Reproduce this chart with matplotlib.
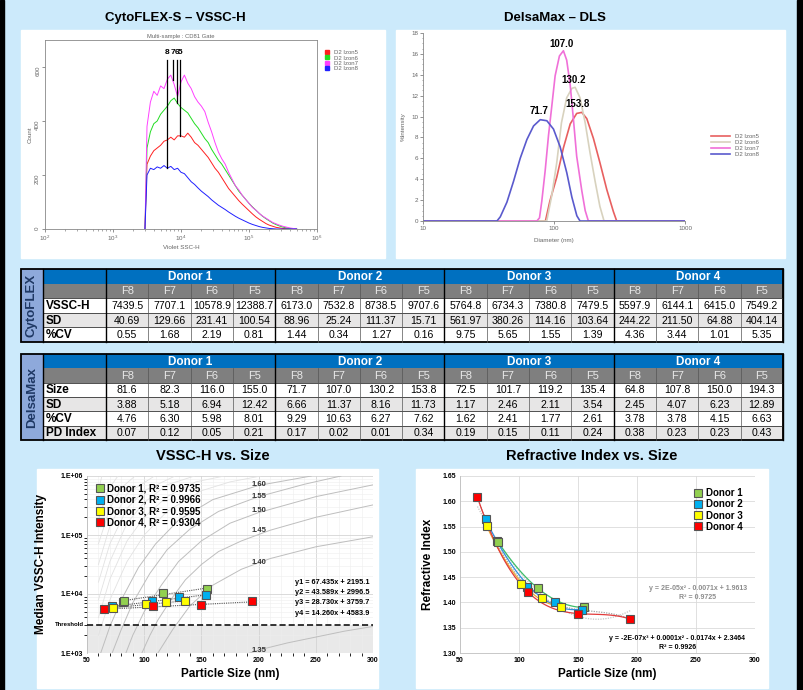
import matplotlib
matplotlib.use("Agg")
import matplotlib.pyplot as plt
import matplotlib.ticker as mticker
from matplotlib.patches import Rectangle
from matplotlib.lines import Line2D
import numpy as np

plt.rcParams["font.family"] = ["Liberation Sans", "DejaVu Sans"]

W, H = 804, 690
BG = "#CCEAFB"
DONOR_COL = ["#92D050", "#00B0F0", "#FFFF00", "#FF0000"]
TREND_COL = ["#3DBE6A", "#2E8FE0", "#F0A830", "#E23B3B"]

# ---------------------------------------------------------------- data
donors = ["Donor 1", "Donor 2", "Donor 3", "Donor 4"]
fractions = ["F8", "F7", "F6", "F5"]

vssc = [[7439.5, 7707.1, 10578.9, 12388.7], [6173.0, 7532.8, 8738.5, 9707.6],
        [5764.8, 6734.3, 7380.8, 7479.5], [5597.9, 6144.1, 6415.0, 7549.2]]
vssc_sd = [[40.69, 129.66, 231.41, 100.54], [88.96, 25.24, 111.37, 15.71],
           [561.97, 380.26, 114.16, 103.64], [244.22, 211.50, 64.88, 404.14]]
vssc_cv = [[0.55, 1.68, 2.19, 0.81], [1.44, 0.34, 1.27, 0.16],
           [9.75, 5.65, 1.55, 1.39], [4.36, 3.44, 1.01, 5.35]]

size = [[81.6, 82.3, 116.0, 155.0], [71.7, 107.0, 130.2, 153.8],
        [72.5, 101.7, 119.2, 135.4], [64.8, 107.8, 150.0, 194.3]]
size_sd = [[3.88, 5.18, 6.94, 12.42], [6.66, 11.37, 8.16, 11.73],
           [1.17, 2.46, 2.11, 3.54], [2.45, 4.07, 6.23, 12.89]]
size_cv = [[4.76, 6.30, 5.98, 8.01], [9.29, 10.63, 6.27, 7.62],
           [1.62, 2.41, 1.77, 2.61], [3.78, 3.78, 4.15, 6.63]]
pdi = [[0.07, 0.12, 0.05, 0.21], [0.17, 0.02, 0.01, 0.34],
       [0.19, 0.15, 0.11, 0.24], [0.38, 0.23, 0.23, 0.43]]

ri = [[1.522, 1.520, 1.428, 1.390], [1.565, 1.430, 1.401, 1.385],
      [1.552, 1.437, 1.409, 1.391], [1.608, 1.420, 1.378, 1.367]]

r2_vssc = ["0.9735", "0.9966", "0.9595", "0.9304"]
fit_slope = [67.435, 43.589, 28.730, 14.260]
fit_icpt = [2195.1, 2996.5, 3759.7, 4583.9]
threshold = 3000

# CytoFLEX histograms (log10 VSSC-H vs count), D2 Izon5..8
hist_log = [3.47] + list(np.round(np.arange(3.50, 5.701, 0.05), 2))
hist_izon5 = [0, 240, 270, 290, 300, 310, 325, 330, 340, 330, 345, 345, 340, 355, 340, 320, 310, 295, 280, 265,
              245, 225, 210, 190, 170, 150, 135, 120, 105, 92, 80, 68, 56, 45, 36, 28, 20, 14, 10, 6, 4, 2, 1, 0, 0, 0]
hist_izon6 = [0, 300, 360, 390, 400, 425, 440, 455, 475, 485, 465, 450, 440, 430, 410, 390, 375, 355, 335, 320,
              295, 275, 255, 240, 220, 200, 180, 160, 140, 125, 110, 95, 82, 70, 58, 47, 38, 30, 22, 16, 11, 7, 4, 2, 1, 0]
hist_izon7 = [0, 380, 470, 510, 495, 530, 520, 555, 570, 535, 490, 545, 570, 540, 520, 490, 470, 455, 435, 395,
              360, 320, 285, 260, 240, 210, 185, 160, 145, 125, 110, 95, 80, 70, 58, 48, 40, 32, 24, 19, 14, 10, 7, 4, 2, 0]
hist_izon8 = [0, 200, 225, 220, 230, 225, 235, 225, 232, 220, 225, 210, 205, 190, 175, 165, 152, 140, 130, 120,
              108, 98, 88, 80, 72, 63, 55, 47, 40, 34, 28, 22, 17, 13, 9, 6, 4, 2, 1, 0, 0, 0, 0, 0, 0, 0]

# DelsaMax DLS intensity distributions
dls_d5 = [10, 86, 93, 105, 118, 133, 149, 163, 178, 200, 224, 253, 284, 301, 1000]
dls_v5 = [0, 0, 1.9, 4.2, 7.0, 9.3, 10.3, 10.4, 9.8, 7.9, 5.6, 3.0, 0.9, 0, 0]
dls_d6 = [10, 88, 96, 105, 114, 125, 137, 145, 158, 173, 188, 206, 224, 241, 1000]
dls_v6 = [0, 0, 2.4, 5.6, 9.4, 11.8, 12.7, 12.8, 11.8, 9.4, 6.6, 3.8, 1.4, 0, 0]
dls_d7 = [10, 74, 77.5, 80.7, 85.6, 90.8, 96.2, 102, 110, 118, 125, 133, 141, 149, 163, 173, 183, 1000]
dls_v7 = [0, 0, 0.3, 1.9, 4.8, 8.2, 11.0, 13.9, 15.8, 16.3, 15.4, 13.0, 9.6, 6.2, 2.9, 1.0, 0, 0]
dls_d8 = [10, 36.7, 38.9, 43.7, 49.1, 55.2, 62.1, 69.8, 78.5, 88.2, 99.1, 111.4, 125.3, 136.8, 149.4, 158, 1000]
dls_v8 = [0, 0, 0.4, 1.8, 3.8, 6.0, 7.8, 9.1, 9.7, 9.6, 8.8, 7.1, 4.6, 2.3, 0.5, 0, 0]
dls_peaks = ["153.8", "130.2", "107.0", "71.7"]

# Mie reference curves (nm, log10 intensity); labelled RIs dark, others light
mie_ri = ["1.35", "1.40", "1.45", "1.50", "1.55", "1.60"]
mie_x = [[188, 200, 225, 250, 275, 300],
         [112, 125, 140, 160, 185, 210, 250, 300],
         [98, 105, 112, 125, 136, 150, 165, 185, 210, 250, 300],
         [84, 90, 100, 115, 130, 150, 175, 200, 250, 300],
         [72, 80, 90, 105, 120, 140, 165, 200, 240, 272],
         [62, 70, 80, 95, 110, 130, 160, 200, 246]]
mie_log = [[2.97, 3.05, 3.17, 3.27, 3.37, 3.45],
           [3.0, 3.4, 3.8, 4.15, 4.42, 4.6, 4.8, 4.97],
           [3.0, 3.3, 3.56, 3.95, 4.24, 4.5, 4.72, 4.9, 5.08, 5.3, 5.51],
           [3.0, 3.3, 3.7, 4.15, 4.55, 4.9, 5.2, 5.38, 5.65, 5.85],
           [3.0, 3.4, 3.85, 4.35, 4.75, 5.1, 5.4, 5.65, 5.86, 6.0],
           [3.0, 3.45, 3.9, 4.45, 4.85, 5.25, 5.6, 5.84, 6.0]]
mie_light_x = [[60, 70, 85, 100, 120, 150, 175, 202], [60, 70, 85, 100, 120, 145, 170],
               [60, 70, 85, 100, 120, 144], [60, 70, 85, 100, 127], [60, 70, 85, 109],
               [60, 70, 80, 92], [60, 68, 77], [60, 63]]
mie_light_log = [[3.3, 3.9, 4.55, 5.0, 5.4, 5.75, 5.9, 6.0], [3.6, 4.25, 4.9, 5.3, 5.65, 5.9, 6.0],
                 [3.9, 4.55, 5.2, 5.55, 5.85, 6.0], [4.2, 4.85, 5.45, 5.75, 6.0], [4.5, 5.15, 5.7, 6.0],
                 [4.85, 5.45, 5.8, 6.0], [5.25, 5.75, 6.0], [5.75, 6.0]]

# ---------------------------------------------------------------- canvas
fig = plt.figure(figsize=(W / 100, H / 100), dpi=100, facecolor=BG)
cv = fig.add_axes([0, 0, 1, 1])
cv.set_xlim(0, W); cv.set_ylim(H, 0); cv.axis("off")
cv.add_patch(Rectangle((0, 0), 4, H, color="black"))
cv.add_patch(Rectangle((797, 0), 7, H, color="black"))
for x0, y0, x1, y1 in [(21, 30, 385, 258), (396, 30, 785, 258), (37, 469, 378, 688), (416, 469, 768, 688)]:
    cv.add_patch(Rectangle((x0, y0), x1 - x0, y1 - y0, color="white"))
cv.text(175, 18, "CytoFLEX-S – VSSC-H", ha="center", va="center", fontsize=9.5, fontweight="bold")
cv.text(555, 18, "DelsaMax – DLS", ha="center", va="center", fontsize=9.5, fontweight="bold")
cv.text(213, 456, "VSSC-H vs. Size", ha="center", va="center", fontsize=10.5, fontweight="bold")
cv.text(592, 456, "Refractive Index vs. Size", ha="center", va="center", fontsize=10.5, fontweight="bold")


def add_ax(x0, y0, x1, y1):
    return fig.add_axes([x0 / W, 1 - y1 / H, (x1 - x0) / W, (y1 - y0) / H])


def table(top, bottom, side, rows):
    x0, x1, xs, xl = 21, 783, 43, 106
    rh = (bottom - top) / (len(rows) + 2)
    cw = (x1 - xl) / 16
    cv.add_patch(Rectangle((x0, top), xs - x0, bottom - top, fc="#8EA9DB", ec="none"))
    cv.text((x0 + xs) / 2, (top + bottom) / 2, side, rotation=90, ha="center", va="center",
            fontsize=9.5, fontweight="bold", color="#1F3864")
    cv.add_patch(Rectangle((xs, top), x1 - xs, rh, fc="#0070C0", ec="none"))
    cv.add_patch(Rectangle((xs, top + rh), x1 - xs, rh, fc="#7F7F7F", ec="none"))
    for g, d in enumerate(donors):
        cv.text(xl + (4 * g + 2) * cw, top + rh / 2 + 0.5, d, ha="center", va="center",
                color="white", fontsize=8.5, fontweight="bold")
    for j in range(16):
        cv.text(xl + (j + 0.5) * cw, top + 1.5 * rh + 0.5, fractions[j % 4], ha="center", va="center",
                color="#E8E8E8", fontsize=8)
    for i, (lab, vals, fmt) in enumerate(rows):
        y = top + (i + 2) * rh
        cv.add_patch(Rectangle((xs, y), x1 - xs, rh, fc="white" if i % 2 == 0 else "#E7E6E6", ec="none"))
        cv.text(xs + 3, y + rh / 2 + 0.5, lab, ha="left", va="center", fontsize=8.5, fontweight="bold")
        for g in range(4):
            for k in range(4):
                cv.text(xl + (4 * g + k + 0.5) * cw, y + rh / 2 + 0.5, fmt.format(vals[g][k]),
                        ha="center", va="center", fontsize=7.6)
        cv.plot([xs, x1], [y, y], color="#333333", lw=0.6)
    for j in range(17):
        x = xl + j * cw
        if j % 4 == 0:
            cv.plot([x, x], [top, bottom], color="black", lw=1.0)
        else:
            cv.plot([x, x], [top + rh, bottom], color="#555555", lw=0.5)
    cv.plot([xs, xs], [top, bottom], color="black", lw=1.0)
    cv.add_patch(Rectangle((x0, top), x1 - x0, bottom - top, fc="none", ec="black", lw=1.3))


table(269, 342, "CytoFLEX", [("VSSC-H", vssc, "{:.1f}"), ("SD", vssc_sd, "{:.2f}"), ("%CV", vssc_cv, "{:.2f}")])
table(354, 440, "DelsaMax", [("Size", size, "{:.1f}"), ("SD", size_sd, "{:.2f}"), ("%CV", size_cv, "{:.2f}"),
                             ("PD Index", pdi, "{:.2f}")])

# ---------------------------------------------------------------- histogram
GRAY_TXT = "#666666"
ax = add_ax(45, 40, 317, 229)
hx = 10 ** np.array(hist_log)
hist_cols = ["#FF2020", "#22DD22", "#FF40FF", "#2020FF"]
hist_lbls = ["D2 Izon5", "D2 Izon6", "D2 Izon7", "D2 Izon8"]
hists = [hist_izon5, hist_izon6, hist_izon7, hist_izon8]
for hy, c in zip(hists, hist_cols):
    ax.plot(hx, hy, color=c, lw=0.7)
# gate markers: Donor 2 medians; 8 -> Izon8 ... 5 -> Izon5
for lbl, med, hy in zip(["8", "7", "6", "5"], vssc[1], [hist_izon8, hist_izon7, hist_izon6, hist_izon5]):
    bot = np.interp(np.log10(med), hist_log, hy)
    ax.plot([med, med], [bot, 625], color="black", lw=0.9)
    ax.text(med, 655, lbl, ha="center", va="center", fontsize=6, fontweight="bold")
ax.set_xscale("log"); ax.set_xlim(1e2, 1e6); ax.set_ylim(0, 700)
ax.set_yticks([0, 200, 400, 600])
ax.tick_params(labelsize=4.5, colors=GRAY_TXT, length=2, width=0.5, pad=1.5)
ax.tick_params(axis="y", labelrotation=90)
ax.tick_params(which="minor", length=1.2, width=0.4, colors=GRAY_TXT)
for s in ax.spines.values():
    s.set_color("#888888"); s.set_linewidth(0.6)
ax.set_xlabel("Violet SSC-H", fontsize=4.5, color=GRAY_TXT, labelpad=1)
ax.set_ylabel("Count", fontsize=4.5, color=GRAY_TXT, labelpad=2)
ax.set_title("Multi-sample : CD81 Gate", fontsize=4.2, color=GRAY_TXT, pad=1.5)
h = [Line2D([], [], ls="none", marker="s", ms=3.5, mfc=c, mec=c) for c in hist_cols]
ax.legend(h, hist_lbls, loc="upper left", bbox_to_anchor=(1.0, 0.97), frameon=False, fontsize=4.3,
          handletextpad=0.2, labelspacing=0.05, borderaxespad=0.3, labelcolor=GRAY_TXT)

# ---------------------------------------------------------------- DLS
ax = add_ax(423, 33, 685, 221)
dls_cols = ["#E86060", "#D8D2BE", "#F070D8", "#5A5ACD"]
for d, v, c, lbl in zip([dls_d5, dls_d6, dls_d7, dls_d8], [dls_v5, dls_v6, dls_v7, dls_v8], dls_cols, hist_lbls):
    ax.plot(d, v, color=c, lw=1.2, label=lbl)
ax.set_xscale("log"); ax.set_xlim(10, 1000); ax.set_ylim(0, 18)
ax.set_yticks(range(0, 19, 2))
ax.yaxis.set_minor_locator(mticker.MultipleLocator(0.5))
ax.xaxis.set_major_formatter(mticker.FuncFormatter(lambda v, p: f"{v:g}"))
ax.xaxis.set_minor_locator(mticker.NullLocator())
ax.tick_params(labelsize=4.5, colors=GRAY_TXT, length=2, width=0.5, pad=1.5)
ax.tick_params(which="minor", length=1, width=0.4, colors=GRAY_TXT)
for s in ["top", "right"]:
    ax.spines[s].set_visible(False)
for s in ["left", "bottom"]:
    ax.spines[s].set_color("#888888"); ax.spines[s].set_linewidth(0.6)
ax.set_xlabel("Diameter (nm)", fontsize=4.5, color=GRAY_TXT, labelpad=5)
ax.set_ylabel("%Intensity", fontsize=4.5, color=GRAY_TXT, labelpad=4)
for lbl, (xp, yp) in zip(dls_peaks, [(150, 11.2), (140, 13.5), (115, 16.95), (77, 10.5)]):
    ax.text(xp, yp, lbl, ha="center", va="center", fontsize=7, fontweight="bold")
ax.legend(loc="upper left", bbox_to_anchor=(1.08, 0.49), frameon=False, fontsize=4.3, handlelength=3.2,
          labelspacing=0.1, labelcolor=GRAY_TXT)

# ---------------------------------------------------------------- VSSC vs size
ax = add_ax(87, 476, 373, 653)
ax.set_yscale("log"); ax.set_xlim(50, 300); ax.set_ylim(1e3, 1e6)
ax.set_xticks(range(50, 301, 50))
ax.xaxis.set_minor_locator(mticker.MultipleLocator(10))
ax.set_yticks([1e3, 1e4, 1e5, 1e6])
ax.set_yticklabels(["1.E+03", "1.E+04", "1.E+05", "1.E+06"])
ax.grid(which="major", color="#D4D4D4", lw=0.6)
ax.grid(which="minor", color="#EEEEEE", lw=0.4)
ax.set_axisbelow(True)
ax.axhspan(1e3, threshold, color="#E9E9E9", zorder=0.5, lw=0)
for xs_, ls_ in zip(mie_light_x, mie_light_log):
    ax.plot(xs_, 10 ** np.array(ls_), color="#E2E2E2", lw=0.6, zorder=1)
for xs_, ls_ in zip(mie_x, mie_log):
    ax.plot(xs_, 10 ** np.array(ls_), color="#BEBEBE", lw=0.7, zorder=1.2)
for lbl, yl in zip(mie_ri, [3.04, 4.54, 5.07, 5.41, 5.66, 5.86]):
    ax.text(200.5, 10 ** yl, lbl, ha="center", va="center", fontsize=5.5, fontweight="bold", color="#333333")
ax.axhline(threshold, color="black", lw=1.1, ls=(0, (4, 2)), zorder=3)
ax.text(-0.01, threshold, "Threshold", transform=ax.get_yaxis_transform(), ha="right", va="center",
        fontsize=4.3, fontweight="bold")
for i in range(4):
    xf = np.array([min(size[i]), max(size[i])])
    ax.plot(xf, fit_slope[i] * xf + fit_icpt[i], color="#555555", lw=0.8, ls=(0, (1, 1)), zorder=3)
for i in range(4):
    ax.plot(size[i], vssc[i], ls="none", marker="s", ms=6.3, mfc=DONOR_COL[i], mec="#555555", mew=0.8, zorder=4,
            label=f"{donors[i]}, R² = {r2_vssc[i]}")
for i in range(4):
    ax.text(0.727, 0.401 - 0.059 * i, f"y{i + 1} = {fit_slope[i]:.3f}x + {fit_icpt[i]:.1f}", transform=ax.transAxes,
            ha="left", va="center", fontsize=5.3, fontweight="bold")
ax.tick_params(labelsize=5, length=0, pad=3)
for t in ax.get_xticklabels() + ax.get_yticklabels():
    t.set_fontweight("bold")
for s in ["top", "right", "bottom"]:
    ax.spines[s].set_visible(False)
ax.spines["left"].set_color("#BFBFBF"); ax.spines["left"].set_linewidth(0.6)
ax.set_xlabel("Particle Size (nm)", fontsize=8.5, fontweight="bold", labelpad=3)
ax.set_ylabel("Median VSSC-H Intensity", fontsize=8.5, fontweight="bold", labelpad=10)
ax.legend(loc="upper left", bbox_to_anchor=(0.0, 1.0), frameon=False, handletextpad=0.3, labelspacing=0.12,
          borderaxespad=0.4, prop={"size": 7, "weight": "bold"}, handlelength=1.0)

# ---------------------------------------------------------------- RI vs size
ax = add_ax(460, 476, 755, 653)
ax.set_xlim(50, 300); ax.set_ylim(1.30, 1.65)
ax.set_xticks(range(50, 301, 50))
ax.set_yticks(np.round(np.arange(1.30, 1.651, 0.05), 2))
ax.yaxis.set_major_formatter(mticker.FormatStrFormatter("%.2f"))
ax.grid(color="#DADADA", lw=0.6)
ax.set_axisbelow(True)
all_x = np.concatenate([np.array(s) for s in size])
all_y = np.concatenate([np.array(r) for r in ri])
xx = np.linspace(all_x.min(), all_x.max(), 200)
c2 = np.polyfit(all_x, all_y, 2)
c3 = np.polyfit(all_x, all_y, 3)
ax.plot(xx, np.polyval(c2, xx), color="#C4C4C4", lw=0.9, ls=(0, (1, 1)), zorder=2)
ax.plot(xx, np.polyval(c3, xx), color="#A0A0A0", lw=0.9, ls=(0, (1, 1)), zorder=2)
for i in range(4):
    deg = 3 if i == 3 else 2
    cf = np.polyfit(size[i], ri[i], deg)
    xs_ = np.linspace(min(size[i]), max(size[i]), 100)
    ax.plot(xs_, np.polyval(cf, xs_), color=TREND_COL[i], lw=0.9, zorder=3)
for i in range(4):
    ax.plot(size[i], ri[i], ls="none", marker="s", ms=6.3, mfc=DONOR_COL[i], mec="#555555", mew=0.8, zorder=4,
            label=donors[i])
ax.text(251.7, 1.4266, "y = 2E-05x² - 0.0071x + 1.9613", ha="center", va="center", fontsize=5,
        fontweight="bold", color="#8C8C8C")
ax.text(251.7, 1.409, "R² = 0.9725", ha="center", va="center", fontsize=5, fontweight="bold", color="#8C8C8C")
ax.text(234, 1.328, "y = -2E-07x³ + 0.0001x² - 0.0174x + 2.3464", ha="center", va="center", fontsize=5,
        fontweight="bold")
ax.text(234, 1.310, "R² = 0.9926", ha="center", va="center", fontsize=5, fontweight="bold")
ax.tick_params(labelsize=5, length=0, pad=3)
for t in ax.get_xticklabels() + ax.get_yticklabels():
    t.set_fontweight("bold")
for s in ["top", "right"]:
    ax.spines[s].set_visible(False)
for s in ["left", "bottom"]:
    ax.spines[s].set_color("#BFBFBF"); ax.spines[s].set_linewidth(0.6)
ax.set_xlabel("Particle Size (nm)", fontsize=8.5, fontweight="bold", labelpad=3)
ax.set_ylabel("Refractive Index", fontsize=8.5, fontweight="bold", labelpad=6)
ax.legend(loc="upper right", bbox_to_anchor=(0.985, 0.975), frameon=False, handletextpad=0.3, labelspacing=0.12,
          borderaxespad=0.4, prop={"size": 7, "weight": "bold"}, handlelength=1.0)

fig.savefig("out.png", dpi=100, facecolor=BG)
